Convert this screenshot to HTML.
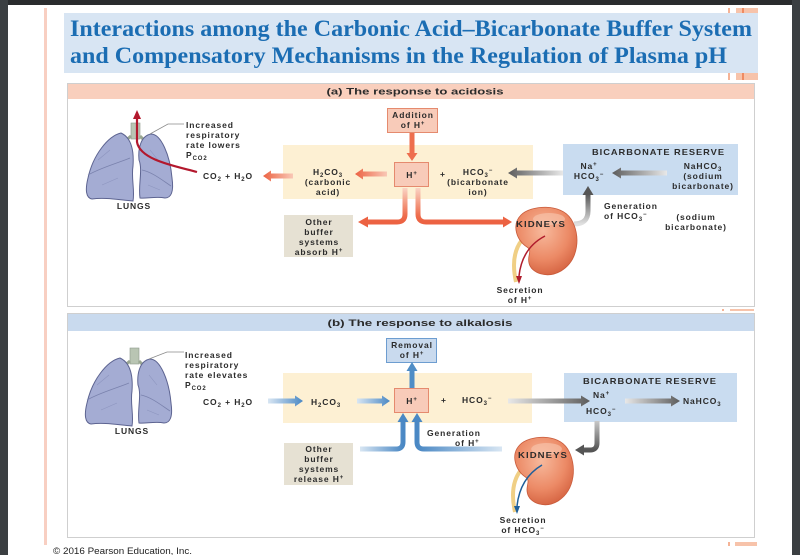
<!DOCTYPE html>
<html><head><meta charset="utf-8"><style>
html,body{margin:0;padding:0;background:#fff;width:800px;height:555px;overflow:hidden}
svg{display:block}
.t{font-family:"Liberation Sans",Arial,sans-serif;font-weight:bold;font-size:8.5px;letter-spacing:0.9px;fill:#2b2b2b}
.c{text-anchor:middle}
.s{font-size:6px}
</style></head><body>
<svg width="800" height="555" viewBox="0 0 800 555" xmlns="http://www.w3.org/2000/svg">
<defs>
<linearGradient id="oL" x1="1" y1="0" x2="0" y2="0"><stop offset="0" stop-color="#f9c8b6"/><stop offset="1" stop-color="#ec6242"/></linearGradient>
<linearGradient id="oD" x1="0" y1="0" x2="0" y2="1"><stop offset="0" stop-color="#fad3c4"/><stop offset="0.8" stop-color="#ee6e4e"/><stop offset="1" stop-color="#ec6242"/></linearGradient>
<linearGradient id="gL" x1="1" y1="0" x2="0" y2="0"><stop offset="0" stop-color="#e8e8e8"/><stop offset="1" stop-color="#5c5c5c"/></linearGradient>
<linearGradient id="gR" x1="0" y1="0" x2="1" y2="0"><stop offset="0" stop-color="#e8e8e8"/><stop offset="1" stop-color="#5c5c5c"/></linearGradient>
<linearGradient id="gU" x1="0" y1="1" x2="0" y2="0"><stop offset="0" stop-color="#e0e0e0"/><stop offset="1" stop-color="#555"/></linearGradient>
<linearGradient id="gDn" x1="0" y1="0" x2="0" y2="1"><stop offset="0" stop-color="#c8c8c8"/><stop offset="1" stop-color="#555"/></linearGradient>
<linearGradient id="bR" x1="0" y1="0" x2="1" y2="0"><stop offset="0" stop-color="#d8e6f3"/><stop offset="1" stop-color="#4a88c4"/></linearGradient>
<linearGradient id="bL" x1="1" y1="0" x2="0" y2="0"><stop offset="0" stop-color="#d8e6f3"/><stop offset="1" stop-color="#4a88c4"/></linearGradient>
<radialGradient id="kid" cx="0.45" cy="0.35" r="0.7"><stop offset="0" stop-color="#f7b99c"/><stop offset="0.6" stop-color="#ec8a66"/><stop offset="1" stop-color="#d3603e"/></radialGradient>
<g id="lungs">
  <rect x="131" y="123" width="9" height="16" fill="#b9c5b3" stroke="#8e9a8a" stroke-width="0.6"/>
  <path d="M131 136 L124 142 M140 136 L146 142" stroke="#9aa792" stroke-width="3" fill="none"/>
  <path d="M121 133 C108 136 93 155 88 178 C85 190 86 198 92 199 C105 197 120 200 133 201 C135 190 131 178 133 166 C134 152 132 138 121 133 Z" fill="#a4acd3" stroke="#5d6491" stroke-width="1"/>
  <path d="M151 134 C161 134 170 155 172 178 C174 192 171 198 165 198 C156 196 146 199 140 198 C138 185 143 170 139 160 C138 150 140 136 151 134 Z" fill="#a4acd3" stroke="#5d6491" stroke-width="1"/>
  <path d="M88 175 C100 168 115 164 130 158 M142 170 C152 172 162 180 171 186" stroke="#7a82ad" stroke-width="0.8" fill="none"/>
  <path d="M98 160 L110 150 M102 185 L118 178 M150 150 L158 160 M148 185 L160 190" stroke="#8d95bf" stroke-width="0.6" fill="none"/>
</g>
<g id="kidney">
  <path d="M8 10 C18 0 48 -2 58 14 C68 30 66 55 48 66 C34 74 18 68 16 58 C14 50 20 46 14 42 C4 36 -2 20 8 10 Z" fill="url(#kid)" stroke="#c85a3a" stroke-width="0.8"/>
  <ellipse cx="36" cy="14" rx="16" ry="6" fill="#f9c8b0" opacity="0.6"/>
</g>
</defs>

<!-- page frame -->
<rect x="0" y="0" width="800" height="555" fill="#fff"/>
<rect x="0" y="0" width="800" height="5" fill="#2a2c2e"/>
<rect x="0" y="0" width="8" height="555" fill="#3b3f42"/>
<rect x="792" y="0" width="8" height="555" fill="#3b3f42"/>
<rect x="44" y="8" width="3" height="537" fill="#f8cfc2"/>

<!-- title -->
<rect x="64" y="13" width="694" height="60" fill="#d8e5f3"/>
<rect x="728" y="8" width="2" height="5" fill="#f5b396"/>
<rect x="736" y="8" width="22" height="5" fill="#f7c3aa"/>
<rect x="742" y="8" width="2" height="5" fill="#ef8b62"/>
<rect x="728" y="73" width="2" height="7" fill="#f5b396"/>
<rect x="736" y="73" width="22" height="7" fill="#f7c3aa"/>
<rect x="742" y="73" width="2" height="7" fill="#ef8b62"/>
<text x="70" y="36" font-family="'Liberation Serif',serif" font-weight="bold" font-size="23" fill="#1b6db3" textLength="682" lengthAdjust="spacingAndGlyphs">Interactions among the Carbonic Acid–Bicarbonate Buffer System</text>
<text x="70" y="63" font-family="'Liberation Serif',serif" font-weight="bold" font-size="23" fill="#1b6db3" textLength="657" lengthAdjust="spacingAndGlyphs">and Compensatory Mechanisms in the Regulation of Plasma pH</text>

<!-- PANEL A -->
<rect x="67.5" y="83.5" width="687" height="223" fill="#fff" stroke="#cfcfcf"/>
<rect x="68" y="84" width="686" height="15" fill="#f9cfbd"/>
<text class="t c" x="415" y="94.5" textLength="177" lengthAdjust="spacingAndGlyphs" style="font-size:9.5px;letter-spacing:0">(a) The response to acidosis</text>

<rect x="283" y="145" width="250" height="54" fill="#fdf0d3"/>
<rect x="563" y="144" width="175" height="51" fill="#c9dcf0"/>
<rect x="284" y="215" width="69" height="42" fill="#e6e1d3"/>
<rect x="387.5" y="108.5" width="50" height="24" fill="#f8cbb9" stroke="#e58a6e"/>
<rect x="394.5" y="162.5" width="34" height="24" fill="#f8cbb9" stroke="#e58a6e"/>

<use href="#lungs"/>
<path d="M150 134 L168 124 L184 124" stroke="#8a8a8a" stroke-width="0.8" fill="none"/>
<path d="M197 172 C175 166 140 160 137 142 L137 118" stroke="#b3182d" stroke-width="2.2" fill="none"/>
<path d="M133 119 L137 110 L141 119 Z" fill="#b3182d"/>

<!-- orange arrows -->
<path d="M293 173.5 L271 173.5 L271 170.5 L263 176 L271 181.5 L271 178.5 L293 178.5 Z" fill="url(#oL)"/>
<path d="M387 171.5 L363 171.5 L363 168.5 L355 174 L363 179.5 L363 176.5 L387 176.5 Z" fill="url(#oL)"/>
<path d="M409.5 133 L409.5 153 L406.5 153 L412 161 L417.5 153 L414.5 153 L414.5 133 Z" fill="#ee6e4e"/>
<path d="M405 188 L405 214 Q405 222 397 222 L367 222" stroke="url(#oD)" stroke-width="5" fill="none"/>
<path d="M368 216.5 L358 222 L368 227.5 Z" fill="#ec6242"/>
<path d="M418 188 L418 214 Q418 222 426 222 L503 222" stroke="url(#oD)" stroke-width="5" fill="none"/>
<path d="M503 216.5 L512 222 L503 227.5 Z" fill="#ec6242"/>

<!-- gray arrows a -->
<path d="M563 170.5 L517 170.5 L517 167.5 L508 173 L517 178.5 L517 175.5 L563 175.5 Z" fill="url(#gL)"/>
<path d="M667 170.5 L621 170.5 L621 167.5 L612 173 L621 178.5 L621 175.5 L667 175.5 Z" fill="url(#gL)"/>
<path d="M574 224 Q588 224 588 211 L588 194" stroke="url(#gU)" stroke-width="5" fill="none"/>
<path d="M582.5 195 L588 186 L593.5 195 Z" fill="#555"/>

<!-- kidney a -->
<path d="M522 240 Q510 255 516 282" stroke="#f0cf85" stroke-width="4" fill="none"/>
<use href="#kidney" transform="translate(513,205)"/>
<path d="M545 236 Q522 248 519 276" stroke="#b01c2c" stroke-width="1.5" fill="none"/>
<path d="M516 276 L519 284 L522 276 Z" fill="#b01c2c"/>

<!-- texts a -->
<text class="t" x="186" y="128">Increased</text>
<text class="t" x="186" y="138">respiratory</text>
<text class="t" x="186" y="148">rate lowers</text>
<text class="t" x="186" y="158">P<tspan class="s" dy="2">CO2</tspan></text>
<text class="t c" x="134" y="209">LUNGS</text>
<text class="t" x="203" y="179">CO<tspan class="s" dy="2">2</tspan><tspan dy="-2"> + H</tspan><tspan class="s" dy="2">2</tspan><tspan dy="-2">O</tspan></text>
<text class="t c" x="328" y="175">H<tspan class="s" dy="2">2</tspan><tspan dy="-2">CO</tspan><tspan class="s" dy="2">3</tspan></text>
<text class="t c" x="328" y="185">(carbonic</text>
<text class="t c" x="328" y="195">acid)</text>
<text class="t c" x="319" y="225">Other</text>
<text class="t c" x="319" y="235">buffer</text>
<text class="t c" x="319" y="245">systems</text>
<text class="t c" x="319" y="255">absorb H<tspan class="s" dy="-3">+</tspan></text>
<text class="t c" x="413" y="118">Addition</text>
<text class="t c" x="413" y="128">of H<tspan class="s" dy="-3">+</tspan></text>
<text class="t c" x="412" y="178">H<tspan class="s" dy="-3">+</tspan></text>
<text class="t" x="440" y="177">+</text>
<text class="t c" x="478" y="175">HCO<tspan class="s" dy="2">3</tspan><tspan class="s" dy="-5">−</tspan></text>
<text class="t c" x="478" y="185">(bicarbonate</text>
<text class="t c" x="478" y="195">ion)</text>
<text class="t" x="592" y="155" textLength="133" lengthAdjust="spacingAndGlyphs">BICARBONATE RESERVE</text>
<text class="t c" x="589" y="169">Na<tspan class="s" dy="-3">+</tspan></text>
<text class="t c" x="589" y="179">HCO<tspan class="s" dy="2">3</tspan><tspan class="s" dy="-5">−</tspan></text>
<text class="t c" x="703" y="169">NaHCO<tspan class="s" dy="2">3</tspan></text>
<text class="t c" x="703" y="179">(sodium</text>
<text class="t c" x="703" y="189">bicarbonate)</text>
<text class="t" x="604" y="209">Generation</text>
<text class="t" x="604" y="219">of HCO<tspan class="s" dy="2">3</tspan><tspan class="s" dy="-5">−</tspan></text>
<text class="t c" x="696" y="220">(sodium</text>
<text class="t c" x="696" y="230">bicarbonate)</text>
<text class="t c" x="541" y="227" textLength="50" lengthAdjust="spacingAndGlyphs" style="font-size:8px">KIDNEYS</text>
<text class="t c" x="520" y="293">Secretion</text>
<text class="t c" x="520" y="303">of H<tspan class="s" dy="-3">+</tspan></text>

<!-- PANEL B -->
<rect x="67.5" y="313.5" width="687" height="224" fill="#fff" stroke="#cfcfcf"/>
<rect x="68" y="314" width="686" height="17" fill="#c9daee"/>
<text class="t c" x="420" y="326" textLength="185" lengthAdjust="spacingAndGlyphs" style="font-size:9.5px;letter-spacing:0">(b) The response to alkalosis</text>

<rect x="283" y="373" width="249" height="50" fill="#fdf0d3"/>
<rect x="564" y="373" width="173" height="49" fill="#c9dcf0"/>
<rect x="284" y="443" width="69" height="42" fill="#e6e1d3"/>
<rect x="386.5" y="338.5" width="50" height="24" fill="#c9daee" stroke="#6d9dd0"/>
<rect x="394.5" y="388.5" width="34" height="24" fill="#f8cbb9" stroke="#e58a6e"/>

<use href="#lungs" transform="translate(-1,225)"/>
<path d="M149 359 L167 352 L184 352" stroke="#8a8a8a" stroke-width="0.8" fill="none"/>

<!-- blue arrows -->
<path d="M268 398.5 L295 398.5 L295 395.5 L303 401 L295 406.5 L295 403.5 L268 403.5 Z" fill="url(#bR)"/>
<path d="M357 398.5 L382 398.5 L382 395.5 L390 401 L382 406.5 L382 403.5 L357 403.5 Z" fill="url(#bR)"/>
<path d="M409.5 388 L409.5 371 L406.5 371 L412 362 L417.5 371 L414.5 371 L414.5 388 Z" fill="#4f8dc6"/>
<path d="M360 449 L396 449 Q403 449 403 442 L403 421" stroke="url(#bR)" stroke-width="5" fill="none"/>
<path d="M397.5 422 L403 413 L408.5 422 Z" fill="#4a88c4"/>
<path d="M502 449 L424 449 Q417 449 417 442 L417 421" stroke="url(#bL)" stroke-width="5" fill="none"/>
<path d="M411.5 422 L417 413 L422.5 422 Z" fill="#4a88c4"/>

<!-- gray arrows b -->
<path d="M508 398.5 L581 398.5 L581 395.5 L590 401 L581 406.5 L581 403.5 L508 403.5 Z" fill="url(#gR)"/>
<path d="M625 398.5 L671 398.5 L671 395.5 L680 401 L671 406.5 L671 403.5 L625 403.5 Z" fill="url(#gR)"/>
<path d="M597 421 L597 443 Q597 450 590 450 L583 450" stroke="url(#gDn)" stroke-width="5" fill="none"/>
<path d="M584 444.5 L575 450 L584 455.5 Z" fill="#555"/>

<!-- kidney b -->
<path d="M521 470 Q509 485 515 512" stroke="#f0cf85" stroke-width="4" fill="none"/>
<use href="#kidney" transform="translate(512,435) scale(0.96,1)"/>
<path d="M542 465 Q520 478 517 506" stroke="#1f5f9a" stroke-width="1.5" fill="none"/>
<path d="M514 506 L517 514 L520 506 Z" fill="#1f5f9a"/>

<!-- texts b -->
<text class="t" x="185" y="358">Increased</text>
<text class="t" x="185" y="368">respiratory</text>
<text class="t" x="185" y="378">rate elevates</text>
<text class="t" x="185" y="388">P<tspan class="s" dy="2">CO2</tspan></text>
<text class="t c" x="132" y="434">LUNGS</text>
<text class="t" x="203" y="405">CO<tspan class="s" dy="2">2</tspan><tspan dy="-2"> + H</tspan><tspan class="s" dy="2">2</tspan><tspan dy="-2">O</tspan></text>
<text class="t" x="311" y="405">H<tspan class="s" dy="2">2</tspan><tspan dy="-2">CO</tspan><tspan class="s" dy="2">3</tspan></text>
<text class="t c" x="319" y="452">Other</text>
<text class="t c" x="319" y="462">buffer</text>
<text class="t c" x="319" y="472">systems</text>
<text class="t c" x="319" y="482">release H<tspan class="s" dy="-3">+</tspan></text>
<text class="t c" x="412" y="348">Removal</text>
<text class="t c" x="412" y="358">of H<tspan class="s" dy="-3">+</tspan></text>
<text class="t c" x="412" y="404">H<tspan class="s" dy="-3">+</tspan></text>
<text class="t" x="441" y="403">+</text>
<text class="t" x="462" y="403">HCO<tspan class="s" dy="2">3</tspan><tspan class="s" dy="-5">−</tspan></text>
<text class="t" x="583" y="384" textLength="134" lengthAdjust="spacingAndGlyphs">BICARBONATE RESERVE</text>
<text class="t" x="593" y="398">Na<tspan class="s" dy="-3">+</tspan></text>
<text class="t" x="586" y="414">HCO<tspan class="s" dy="2">3</tspan><tspan class="s" dy="-5">−</tspan></text>
<text class="t" x="683" y="404">NaHCO<tspan class="s" dy="2">3</tspan></text>
<text class="t" x="427" y="436">Generation</text>
<text class="t" x="455" y="446">of H<tspan class="s" dy="-3">+</tspan></text>
<text class="t c" x="543" y="458" textLength="50" lengthAdjust="spacingAndGlyphs" style="font-size:8px">KIDNEYS</text>
<text class="t c" x="523" y="523">Secretion</text>
<text class="t c" x="523" y="533">of HCO<tspan class="s" dy="2">3</tspan><tspan class="s" dy="-5">−</tspan></text>

<!-- small orange marks -->
<rect x="722" y="309" width="2" height="2" fill="#f5b396"/>
<rect x="730" y="309" width="24" height="2" fill="#f7c3aa"/>
<rect x="728" y="542" width="2" height="4" fill="#f5b396"/>
<rect x="735" y="542" width="22" height="4" fill="#f7c3aa"/>

<text x="53" y="554" font-family="'Liberation Sans',Arial,sans-serif" font-size="9" fill="#222" textLength="139" lengthAdjust="spacingAndGlyphs">© 2016 Pearson Education, Inc.</text>
</svg>
</body></html>
